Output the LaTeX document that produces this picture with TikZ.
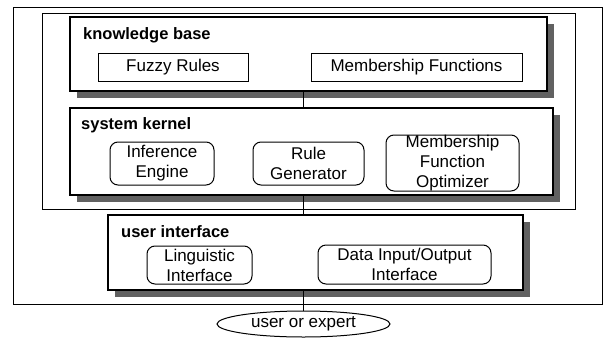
\documentclass[tikz,border=0pt]{standalone}
\usepackage{fontspec}
\setmainfont{Liberation Sans}
\usetikzlibrary{shapes.geometric,shadows}
\tikzset{
  frame/.style={draw, line width=0.9pt, inner sep=0pt},
  panel/.style={draw, fill=white, line width=1.2pt, inner sep=0pt,
    drop shadow={shadow xshift=7pt, shadow yshift=-7pt, fill=black!62, opacity=1}},
  item/.style={draw, fill=white, line width=1pt, inner sep=0pt, align=center,
    font=\fontsize{17}{20}\selectfont},
  ritem/.style={item, rounded corners=8pt},
  title/.style={anchor=west, inner sep=0pt, font=\fontsize{16.5}{20}\selectfont\bfseries},
  link/.style={line width=1.2pt}
}
\begin{document}
\begin{tikzpicture}[x=1pt,y=-1pt]
\useasboundingbox (0,0) rectangle (604,340);
% frames
\node[frame, minimum width=589pt, minimum height=297pt] (outer) at (307.5,155.5) {};
\node[frame, minimum width=533pt, minimum height=196pt] (inner) at (308.5,111) {};
% knowledge base
\node[panel, minimum width=477pt, minimum height=74pt] (KB) at (308.5,54) {};
\node[title] (kbt) at (83,35) {knowledge base};
\node[item, minimum width=150pt, minimum height=28pt] (FR) at (173,67) {Fuzzy Rules};
\node[item, minimum width=211pt, minimum height=28pt] (MF) at (416.5,67) {Membership Functions};
% system kernel
\node[panel, minimum width=483pt, minimum height=87pt] (SK) at (311.5,151.5) {};
\node[title] (skt) at (81,125) {system kernel};
\node[ritem, minimum width=104pt, minimum height=43pt] (IE) at (162,163.5) {Inference\\Engine};
\node[ritem, minimum width=111pt, minimum height=43pt] (RG) at (308.5,163.5) {Rule\\Generator};
\node[ritem, minimum width=133pt, minimum height=56pt] (MFO) at (452.5,163) {Membership\\Function\\Optimizer};
% user interface
\node[panel, minimum width=415pt, minimum height=75pt] (UI) at (315.5,252.5) {};
\node[title] (uit) at (121,232) {user interface};
\node[ritem, minimum width=105pt, minimum height=38pt] (LI) at (199.5,265) {Linguistic\\Interface};
\node[ritem, minimum width=173pt, minimum height=39pt] (DIO) at (404.5,264.5) {Data Input/Output\\Interface};
% user
\node[ellipse, draw, line width=1pt, inner sep=0pt, minimum width=173pt, minimum height=26pt,
  font=\fontsize{17}{20}\selectfont] (E) at (303.5,324) {user or expert};
% links
\draw[link] (KB.south -| E.center) -- (SK.north -| E.center);
\draw[link] (SK.south -| E.center) -- (UI.north -| E.center);
\draw[link] (UI.south -| E.center) -- (E.north);
\end{tikzpicture}
\end{document}
